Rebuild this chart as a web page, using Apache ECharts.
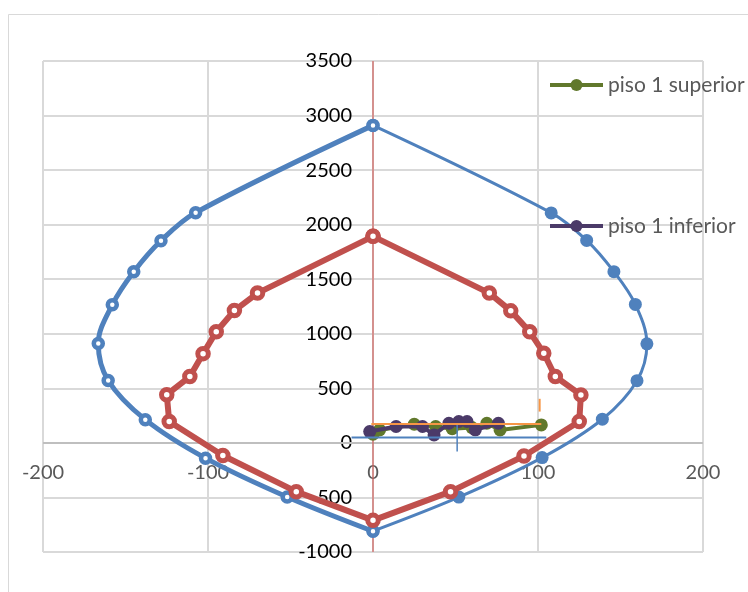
<!DOCTYPE html>
<html>
<head>
<meta charset="utf-8">
<script src="https://cdn.jsdelivr.net/npm/echarts@6/dist/echarts.min.js"></script>
<style>
  html, body { margin: 0; padding: 0; background: #fff; }
  #chart { width: 748px; height: 592px; }
</style>
</head>
<body>
<div id="chart"></div>
<script>
// Axis ticks
const xTicks = { min: -200, max: 200, step: 100 };
const yTicks = { min: -1000, max: 3500, step: 500 };

// Nominal interaction curve (M, P): left branch and right branch
const nominalLeft = [[0, 2910], [-107.5, 2110], [-128.5, 1853], [-145, 1569], [-158, 1266],
  [-166.5, 911], [-160.5, 572], [-138, 213], [-101.5, -140], [-52, -496], [0, -810]];
const nominalRight = [[0, 2910], [108, 2108], [129.5, 1856], [146, 1569], [159, 1269],
  [166, 908], [160, 570], [139, 217], [102.5, -135], [52, -497], [0, -808]];

// Design interaction curve (closed loop)
const designCurve = [[0, 1893], [-70, 1373], [-84, 1213], [-95, 1018], [-103, 818], [-111, 608],
  [-125, 442], [-123.5, 196], [-91, -115], [-46.5, -447], [0, -710], [47, -447], [91.5, -120],
  [125, 196], [126, 440], [110.5, 608], [103.5, 822], [95, 1018], [83.5, 1210], [70.5, 1373], [0, 1893]];

// Demand points
const pisoSuperior = [[0, 80], [4, 119], [25, 171], [38, 150], [48, 130], [60, 140],
  [69, 180], [77, 119], [102, 165]];
const pisoInferior = [[-2, 104], [14, 150], [30, 150], [37, 73], [46, 180], [52, 196],
  [57, 196], [62, 120], [76, 180]];

// Reference segments
const orangeH = [[-1, 174], [102, 174]];
const orangeV = [[101, 287], [101, 404]];
const blueH = [[-13, 49], [105, 49]];
const blueV = [[51, -80], [51, 165]];

// Axis lines crossing at the origin
const zeroLineX = [[-200, 0], [200, 0]];
const zeroLineY = [[0, -1000], [0, 3500]];

const BLUE = '#4f81bd', RED = '#c0504d', GREEN = '#61782c', PURPLE = '#4b3a68', ORANGE = '#f79646';
const FONT = 'Lato';

const chart = echarts.init(document.getElementById('chart'), null, { renderer: 'canvas' });

function hollow(color, size, border) {
  return { symbol: 'circle', symbolSize: size, itemStyle: { color: '#fff', borderColor: color, borderWidth: border } };
}
function plainLine(name, data, color, width, z) {
  return { name, type: 'line', data, symbol: 'none', lineStyle: { color, width }, z: z || 7, silent: true };
}

const legendBase = {
  orient: 'vertical', left: 548, padding: 0, itemWidth: 53, itemHeight: 15,
  lineStyle: { width: 4 },
  textStyle: { fontFamily: FONT, fontSize: 21, color: '#595959', lineHeight: 22 }
};

// The plot area spans x 43..703, y 61..552; x = 0 sits at 373, y = 0 at 443
const GRID = { left: 43, right: 45, top: 61, bottom: 40 };

chart.setOption({
  animation: false,
  backgroundColor: '#fff',
  graphic: [{
    type: 'rect', shape: { x: 8.5, y: 14.5, width: 800, height: 700 },
    style: { fill: 'none', stroke: '#d9d9d9', lineWidth: 1 }, silent: true, z: -10
  }],
  grid: Object.assign({ outerBoundsMode: 'none', containLabel: false }, GRID),
  legend: [
    Object.assign({}, legendBase, { top: 74, data: ['piso 1 superior'] }),
    Object.assign({}, legendBase, { top: 215, data: ['piso 1 inferior'] })
  ],
  xAxis: {
    type: 'value', min: xTicks.min, max: xTicks.max, interval: xTicks.step,
    axisLine: { show: false, onZero: false },
    axisTick: { show: false },
    // labels sit just below the y = 0 line
    axisLabel: { margin: -89, fontFamily: FONT, fontSize: 20, color: '#595959',
      formatter: v => String(v) },
    splitLine: { lineStyle: { color: '#d9d9d9', width: 2 } }
  },
  yAxis: {
    type: 'value', min: yTicks.min, max: yTicks.max, interval: yTicks.step,
    position: 'left', offset: -330,
    axisLine: { show: false, onZero: false },
    axisTick: { show: false },
    axisLabel: { margin: 21, fontFamily: FONT, fontSize: 20, color: '#000',
      formatter: v => String(v) },
    splitLine: { lineStyle: { color: '#d9d9d9', width: 2 } }
  },
  series: [
    plainLine('eje x', zeroLineX, '#bfbfbf', 2, 1),
    plainLine('eje y', zeroLineY, '#d0605c', 1.2, 1),
    { name: 'nominal der', type: 'line', data: nominalRight, smooth: 0.35,
      symbol: 'circle', symbolSize: 13, itemStyle: { color: BLUE },
      lineStyle: { color: BLUE, width: 3 }, z: 2 },
    Object.assign({ name: 'nominal izq', type: 'line', data: nominalLeft, smooth: 0.35,
      lineStyle: { color: BLUE, width: 5 }, z: 3 }, hollow(BLUE, 9, 4.5)),
    Object.assign({ name: 'diseño', type: 'line', data: designCurve,
      lineStyle: { color: RED, width: 6 }, z: 4 }, hollow(RED, 10.5, 5)),
    { name: 'piso 1 superior', type: 'line', data: pisoSuperior,
      symbol: 'circle', symbolSize: 13, itemStyle: { color: GREEN },
      lineStyle: { color: GREEN, width: 4 }, z: 5 },
    { name: 'piso 1 inferior', type: 'line', data: pisoInferior,
      symbol: 'circle', symbolSize: 13, itemStyle: { color: PURPLE },
      lineStyle: { color: PURPLE, width: 4 }, z: 6 },
    plainLine('ref h1', orangeH, ORANGE, 2),
    plainLine('ref v1', orangeV, ORANGE, 2),
    plainLine('ref h2', blueH, BLUE, 2),
    plainLine('ref v2', blueV, BLUE, 1.5)
  ]
});
</script>
</body>
</html>
